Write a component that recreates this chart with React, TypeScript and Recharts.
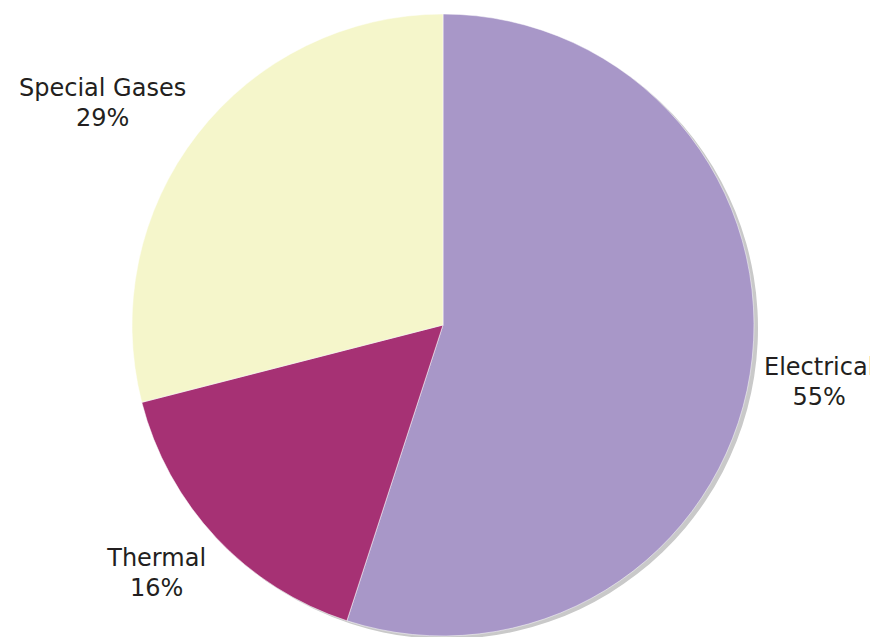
import React from 'react';
import { PieChart, Pie, Cell } from 'recharts';

const categories = ['Electrical', 'Thermal', 'Special Gases'];
const shares = [55, 16, 29];
const colors = ['#a897c8', '#a63174', '#f5f6cb'];

const data = categories.map((name, i) => ({ name, value: shares[i] }));

const FONT = '24px "DejaVu Sans", Verdana, sans-serif';
const RADIAN = Math.PI / 180;

// width of a label, so that both lines can be centred next to the pie edge
const measure = (text: string) => {
  const ctx = document.createElement('canvas').getContext('2d');
  if (!ctx) return text.length * 12;
  ctx.font = FONT;
  return ctx.measureText(text).width;
};

const renderLabel = (props: any) => {
  const { cx, cy, midAngle, outerRadius, name, value } = props;
  const cos = Math.cos(-midAngle * RADIAN);
  const sin = Math.sin(-midAngle * RADIAN);
  const edgeX = cx + (outerRadius + 14) * cos;
  const midY = cy + (outerRadius + 51) * sin;
  const w = measure(name);
  const x = cos >= 0 ? edgeX + w / 2 : edgeX - w / 2;
  return (
    <text
      x={x}
      y={midY}
      textAnchor="middle"
      fill="#231f20"
      style={{ font: FONT }}
    >
      <tspan x={x} dy={-7}>{name}</tspan>
      <tspan x={x} dy={30}>{`${value}%`}</tspan>
    </text>
  );
};

export default function App() {
  return (
    <div style={{ margin: '-8px 0 0 -8px', width: 878, height: 637 }}>
      <PieChart width={878} height={637} margin={{ top: 0, right: 0, bottom: 0, left: 0 }}>
        {/* drop shadow */}
        <Pie
          data={data}
          dataKey="value"
          cx={447}
          cy={328}
          outerRadius={311}
          startAngle={90}
          endAngle={-270}
          fill="#c9c9c9"
          stroke="none"
          isAnimationActive={false}
        />
        <Pie
          data={data}
          dataKey="value"
          nameKey="name"
          cx={443}
          cy={325}
          outerRadius={311}
          startAngle={90}
          endAngle={-270}
          stroke="#ffffff"
          strokeWidth={0.5}
          label={renderLabel}
          labelLine={false}
          isAnimationActive={false}
        >
          {data.map((d, i) => (
            <Cell key={d.name} fill={colors[i]} />
          ))}
        </Pie>
      </PieChart>
    </div>
  );
}
